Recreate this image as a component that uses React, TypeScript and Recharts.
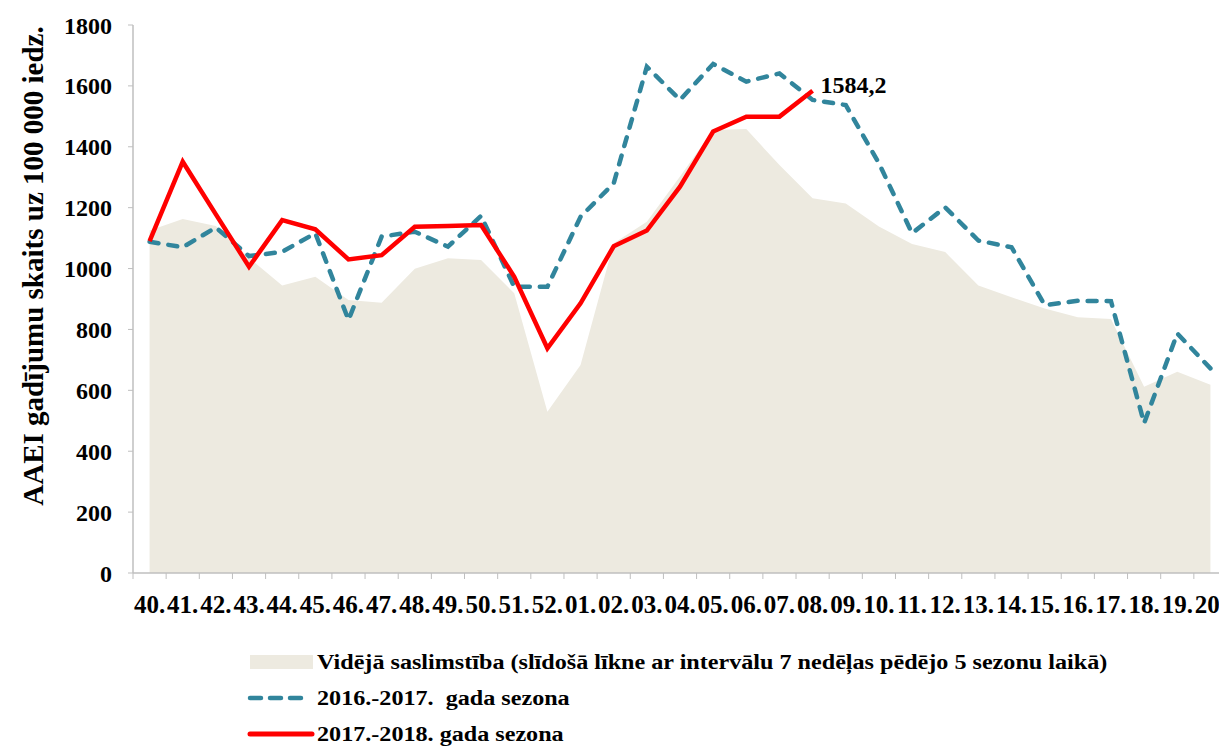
import React from 'react';
import { ComposedChart, Area, Line, XAxis, YAxis, Label, LabelList } from 'recharts';

const weeks = ['40', '41', '42', '43', '44', '45', '46', '47', '48', '49', '50', '51', '52',
  '01', '02', '03', '04', '05', '06', '07', '08', '09', '10', '11', '12', '13', '14', '15', '16', '17', '18', '19', '20'];

const averageValues = [1125, 1163, 1140, 1035, 944, 973, 897, 888, 999, 1034, 1028, 919, 530,
  683, 1083, 1154, 1302, 1455, 1458, 1340, 1231, 1214, 1138, 1081, 1054, 944, 906, 869, 840, 834, 612, 661, 618];

const season1617 = [1088, 1070, 1135, 1041, 1055, 1116, 831, 1105, 1121, 1072, 1173, 940, 940,
  1170, 1280, 1663, 1554, 1672, 1614, 1641, 1554, 1537, 1346, 1116, 1201, 1092, 1070, 880, 894, 893, 492, 787, 672];

const season1718 = [1090, 1351, 1178, 1006, 1159, 1129, 1030, 1044, 1137, 1140, 1143, 973, 738,
  886, 1073, 1125, 1269, 1450, 1499, 1499, 1584.2];

const yTicks = [0, 200, 400, 600, 800, 1000, 1200, 1400, 1600, 1800];

const legendLabels = [
  'Vidējā saslimstība (slīdošā līkne ar intervālu 7 nedēļas pēdējo 5 sezonu laikā)',
  '2016.-2017.  gada sezona',
  '2017.-2018. gada sezona',
];

const data = weeks.map((w, i) => ({
  i,
  avg: averageValues[i],
  s1617: season1617[i],
  s1718: i < season1718.length ? season1718[i] : null,
}));

const weekTicks = weeks.map((_, i) => i);

const FONT = '"Liberation Serif", "Times New Roman", serif';
const AREA_COLOR = '#EDEAE0';
const BLUE = '#31859C';
const RED = '#FF0000';
const AXIS_COLOR = '#BFBFBF';

const CHART_W = 1219;
const Y_AXIS_W = 125;

const lastIdx = season1718.length - 1;

const YTitle = (props: any) => {
  const vb = props.viewBox || {};
  const cx = vb.x + 25;
  const cy = vb.y + vb.height / 2 - 33;
  return (
    <text
      x={cx}
      y={cy}
      transform={`rotate(-90 ${cx} ${cy})`}
      textAnchor="middle"
      dominantBaseline="central"
      fontFamily={FONT}
      fontWeight="bold"
      fontSize={29}
      fill="#000"
    >
      AAEI gadījumu skaits uz 100 000 iedz.
    </text>
  );
};

const WeekTick = (props: any) => {
  const { x, y, payload, index, width } = props;
  const plotW = Number(width) > 0 ? Number(width) : CHART_W - Y_AXIS_W;
  const half = plotW / (2 * weeks.length);
  const isLast = index === weeks.length - 1;
  return (
    <g>
      <line x1={x - half} y1={y} x2={x - half} y2={y + 6} stroke={AXIS_COLOR} strokeWidth={1} />
      {isLast && (
        <line x1={x + half} y1={y} x2={x + half} y2={y + 6} stroke={AXIS_COLOR} strokeWidth={1} />
      )}
      <text
        x={x}
        y={y + 31}
        textAnchor="middle"
        dominantBaseline="central"
        fontFamily={FONT}
        fontWeight="bold"
        fontSize={25}
        fill="#000"
      >
        {weeks[payload.value] + '.'}
      </text>
    </g>
  );
};

const LastLabel = (props: any) => {
  const { x, y, index, value } = props;
  if (index !== lastIdx || value == null) return null;
  return (
    <text
      x={x + 8}
      y={y - 6}
      dominantBaseline="central"
      fontFamily={FONT}
      fontWeight="bold"
      fontSize={24}
      fill="#000"
    >
      {String(value).replace('.', ',')}
    </text>
  );
};

export default function App() {
  return (
    <div style={{ position: 'relative', width: CHART_W, height: 739, fontFamily: FONT }}>
      <ComposedChart
        width={CHART_W}
        height={625}
        data={data}
        margin={{ top: 17, right: 0, bottom: 0, left: 0 }}
      >
        <XAxis
          dataKey="i"
          type="number"
          domain={[-0.5, weeks.length - 0.5]}
          ticks={weekTicks}
          interval={0}
          tick={<WeekTick />}
          tickLine={false}
          tickSize={0}
          tickMargin={0}
          axisLine={{ stroke: AXIS_COLOR, strokeWidth: 1.5 }}
          height={60}
          allowDataOverflow
        />
        <YAxis
          type="number"
          domain={[0, 1800]}
          ticks={yTicks}
          interval={0}
          width={Y_AXIS_W}
          tickSize={5}
          tickMargin={16}
          tickLine={{ stroke: AXIS_COLOR }}
          axisLine={{ stroke: AXIS_COLOR, strokeWidth: 1.5 }}
          tick={{ fontFamily: FONT, fontWeight: 'bold', fontSize: 24, fill: '#000' }}
        >
          <Label content={<YTitle />} />
        </YAxis>
        <Area
          dataKey="avg"
          type="linear"
          stroke="none"
          fill={AREA_COLOR}
          fillOpacity={1}
          isAnimationActive={false}
          dot={false}
          activeDot={false}
        />
        <Line
          dataKey="s1617"
          type="linear"
          stroke={BLUE}
          strokeWidth={4.5}
          strokeDasharray="9 10"
          strokeLinecap="round"
          dot={false}
          activeDot={false}
          isAnimationActive={false}
        />
        <Line
          dataKey="s1718"
          type="linear"
          stroke={RED}
          strokeWidth={4.5}
          dot={false}
          activeDot={false}
          isAnimationActive={false}
          connectNulls={false}
        >
          <LabelList dataKey="s1718" content={<LastLabel />} />
        </Line>
      </ComposedChart>
      <div style={{ position: 'absolute', left: 232, top: 640 }}>
        <svg width={980} height={100}>
          <rect x={10} y={7} width={63} height={14} fill={AREA_COLOR} />
          <line x1={10} y1={50} x2={64} y2={50} stroke={BLUE} strokeWidth={4.5} strokeDasharray="11 9" strokeLinecap="round" />
          <line x1={10} y1={86} x2={72} y2={86} stroke={RED} strokeWidth={5} strokeLinecap="round" />
          {legendLabels.map((t, k) => (
            <text
              key={k}
              transform={`translate(77 ${14 + k * 36}) scale(1.15 1)`}
              x={0}
              y={0}
              dominantBaseline="central"
              fontFamily={FONT}
              fontWeight="bold"
              fontSize={21}
              fill="#000"
              style={{ whiteSpace: 'pre' }}
            >
              {t}
            </text>
          ))}
        </svg>
      </div>
    </div>
  );
}
